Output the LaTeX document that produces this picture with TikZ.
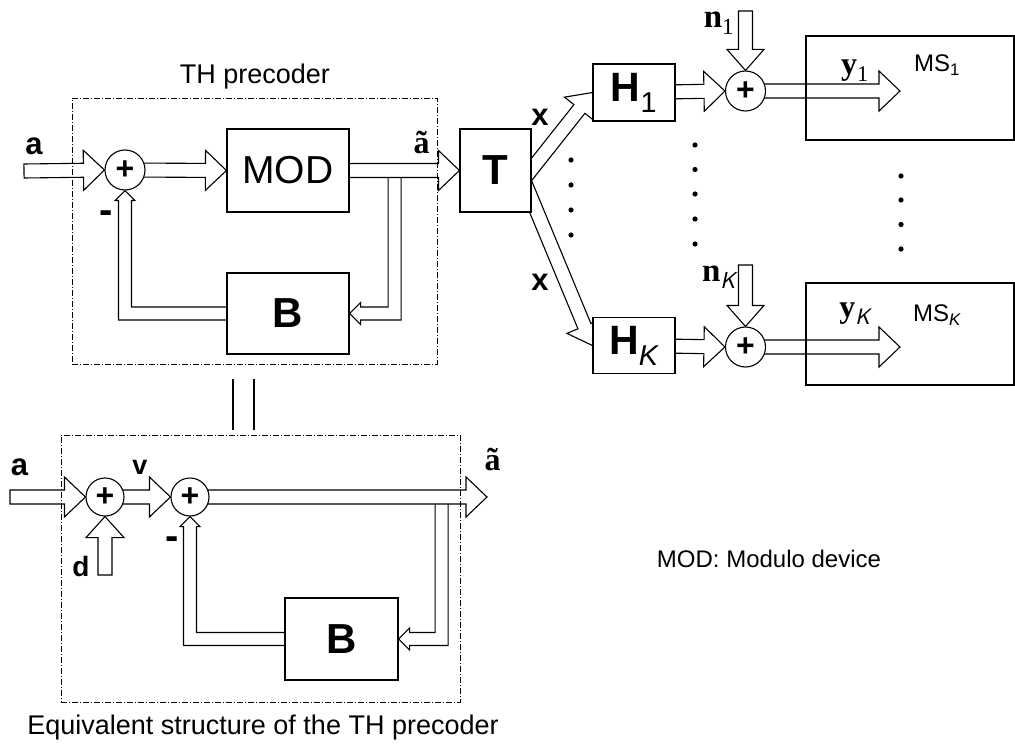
\documentclass[tikz,border=0pt]{standalone}
\usepackage{fontspec}
\setmainfont{Liberation Sans}
\newfontfamily\tms{Liberation Serif}
\usetikzlibrary{calc,backgrounds}
\newcommand{\fsz}[1]{\fontsize{#1}{#1}\selectfont}
% hollow block arrow: [head half width]{from}{tip}
\newcommand{\harrow}[3][20]{%
  \coordinate (hb) at ($#3!21pt!#2$);
  \draw[harr] ($#2!7pt!90:#3$) -- ($(hb)!7pt!-90:#2$) -- ($(hb)!#1pt!-90:#2$) -- #3
    -- ($(hb)!#1pt!90:#2$) -- ($(hb)!7pt!90:#2$) -- ($#2!7pt!-90:#3$) -- cycle;}
\tikzset{
  blk/.style={draw, fill=white, line width=1.1pt, inner sep=0pt},
  sumnode/.style={circle, draw, fill=white, line width=1.1pt, minimum size=40pt, inner sep=0pt, font=\fsz{32}\bfseries},
  harr/.style={draw, fill=white, line width=1.1pt, line join=miter},
  grp/.style={draw, line width=0.9pt, dash pattern=on 6pt off 2pt on 1pt off 2pt, inner sep=0pt},
  msbox/.style={draw, line width=1.1pt, inner sep=0pt, minimum width=208pt},
  lbl/.style={inner sep=0pt, font=\fsz{31}\bfseries},
  bld/.style={inner sep=0pt, font=\fsz{32}\tms\bfseries},
}
\begin{document}
\begin{tikzpicture}[x=1pt, y=-1pt]
  \useasboundingbox (0,0) rectangle (1015,746);

  % TH precoder
  \node[grp, minimum width=365pt, minimum height=266pt] (thp) at (254.5,231) {};
  \node[font=\fsz{27}] (thlbl) at (255,77) {TH precoder};
  \node[sumnode] (s1) at (125,170) {+};
  \node[blk, minimum width=122pt, minimum height=83pt, font=\fsz{39}] (mod) at (288,170.5) {MOD};
  \node[blk, minimum width=122pt, minimum height=81pt, font=\fsz{42}\bfseries] (bfb) at (288,313.5) {B};
  \coordinate (a0) at (24,171);
  \node[lbl] (la) at (34,146) {a};
  \node[lbl, font=\fsz{40}\bfseries] (lm1) at (106,217) {-};
  \node[bld] (lat1) at (421.5,143) {\~a};

  % transmitter and channels
  \node[blk, minimum width=71pt, minimum height=83pt, font=\fsz{42}\bfseries] (T) at (495.5,170.5) {T};
  \node[blk, minimum width=82pt, minimum height=57pt, font=\fsz{41}\bfseries] (h1) at (634,92.5) {H\textsubscript{\mdseries 1}};
  \node[blk, minimum width=82pt, minimum height=56pt, font=\fsz{41}\bfseries] (hK) at (634,345.5) {H\textsubscript{\mdseries\itshape K}};
  \node[lbl] (lx1) at (540,117) {x};
  \node[lbl] (lx2) at (540,282) {x};
  \node[sumnode] (s2) at (745.5,91) {+};
  \node[sumnode] (sK) at (745.5,347) {+};
  \coordinate (n1s) at (745.5,11);
  \coordinate (nKs) at (745.5,265);
  \coordinate (y1e) at (900,91);
  \coordinate (yKe) at (900,347);
  \node[bld, font=\fsz{33}\tms\bfseries] (ln1) at (719,23) {n\textsubscript{\mdseries 1}};
  \node[bld, font=\fsz{33}\tms\bfseries] (lnK) at (719,277) {n\textsubscript{\mdseries\sffamily\itshape K}};
  \node[bld] (ly1) at (855,71) {y\textsubscript{\mdseries 1}};
  \node[bld] (lyK) at (855,314) {y\textsubscript{\mdseries\sffamily\itshape K}};
  \node[msbox, minimum height=104pt] (ms1) at (910,88) {};
  \node[msbox, minimum height=102pt] (msK) at (910,334) {};
  \node[font=\fsz{24}] (lms1) at (937,65) {MS\textsubscript{1}};
  \node[font=\fsz{24}] (lmsK) at (937,315) {MS\textsubscript{\itshape K}};
  \foreach \y in {160,185,210,235} \fill (571,\y) circle (2.6pt);
  \foreach \y in {145,169.5,194,219,244} \fill (695,\y) circle (2.6pt);
  \foreach \y in {176,200,224.5,249} \fill (901,\y) circle (2.6pt);

  % equivalent structure
  \node[grp, minimum width=399pt, minimum height=267pt] (eqs) at (260.5,568.5) {};
  \node[font=\fsz{27}] (eqlbl) at (263,728) {Equivalent structure of the TH precoder};
  \node[sumnode, minimum size=38pt] (s3) at (105,497) {+};
  \node[sumnode, minimum size=38pt] (s4) at (190,497) {+};
  \node[blk, minimum width=113pt, minimum height=82pt, font=\fsz{42}\bfseries] (b2) at (341.5,639) {B};
  \coordinate (a1) at (10,497);
  \coordinate (d0) at (105,575);
  \coordinate (atil) at (487,497);
  \node[lbl] (la2) at (19.5,467) {a};
  \node[lbl, font=\fsz{28}\bfseries] (ld) at (81,566) {d};
  \node[lbl, font=\fsz{27}\bfseries] (lv) at (140,467) {v};
  \node[lbl, font=\fsz{40}\bfseries] (lm2) at (172,543) {-};
  \node[bld] (lat2) at (492.5,460) {\~a};
  \node[font=\fsz{24}] (note) at (769,559) {MOD: Modulo device};

  \draw[line width=1.1pt] ($(thp.south)+(-21.5,15)$) -- ++(0,51);
  \draw[line width=1.1pt] ($(thp.south)+(-0.5,15)$) -- ++(0,51);

  \begin{scope}[on background layer]
    % feedback loops
    \coordinate (br1) at ($(mod.east)!0.41!(T.west)$);
    \draw[harr] ($(br1)+(-6.5,0)$) -- ($(br1 |- bfb.east)+(-6.5,-6.5)$) -- ($(bfb.east)+(11,-6.5)$)
      -- ($(bfb.east)+(11,-11)$) -- (bfb.east) -- ($(bfb.east)+(11,11)$) -- ($(bfb.east)+(11,6.5)$)
      -- ($(br1 |- bfb.east)+(6.5,6.5)$) -- ($(br1)+(6.5,0)$);
    \draw[harr] ($(bfb.west)+(5,-6.5)$) -- ($(s1 |- bfb.west)+(6.5,-6.5)$) -- ($(s1.south)+(6.5,10)$)
      -- ($(s1.south)+(10,10)$) -- (s1.south) -- ($(s1.south)+(-10,10)$) -- ($(s1.south)+(-6.5,10)$)
      -- ($(s1 |- bfb.west)+(-6.5,6.5)$) -- ($(bfb.west)+(5,6.5)$);
    \coordinate (br2) at ($(b2.east |- s4)+(43,0)$);
    \draw[harr] ($(br2)+(-6.5,0)$) -- ($(br2 |- b2.east)+(-6.5,-6.5)$) -- ($(b2.east)+(11,-6.5)$)
      -- ($(b2.east)+(11,-11)$) -- (b2.east) -- ($(b2.east)+(11,11)$) -- ($(b2.east)+(11,6.5)$)
      -- ($(br2 |- b2.east)+(6.5,6.5)$) -- ($(br2)+(6.5,0)$);
    \draw[harr] ($(b2.west)+(5,-6.5)$) -- ($(s4 |- b2.west)+(6.5,-6.5)$) -- ($(s4.south)+(6.5,10)$)
      -- ($(s4.south)+(10,10)$) -- (s4.south) -- ($(s4.south)+(-10,10)$) -- ($(s4.south)+(-6.5,10)$)
      -- ($(s4 |- b2.west)+(-6.5,6.5)$) -- ($(b2.west)+(5,6.5)$);
    % forward paths
    \harrow{(a0)}{(s1.west)}
    \harrow{(s1)}{(mod.west)}
    \harrow{(mod)}{(T.west)}
    \coordinate (tx) at ($(T.east)+(-8,9)$);
    \harrow[19]{(tx)}{(h1.west)}
    \harrow[19]{(tx)}{(hK.west)}
    \harrow{(h1)}{(s2.west)}
    \harrow{(hK)}{(sK.west)}
    \harrow[18.5]{(n1s)}{(s2.north)}
    \harrow[18.5]{(nKs)}{(sK.north)}
    \harrow{(s2)}{(y1e)}
    \harrow{(sK)}{(yKe)}
    \harrow{(a1)}{(s3.west)}
    \harrow[19]{(d0)}{(s3.south)}
    \harrow{(s3)}{(s4.west)}
    \harrow{(s4)}{(atil)}
  \end{scope}
\end{tikzpicture}
\end{document}
